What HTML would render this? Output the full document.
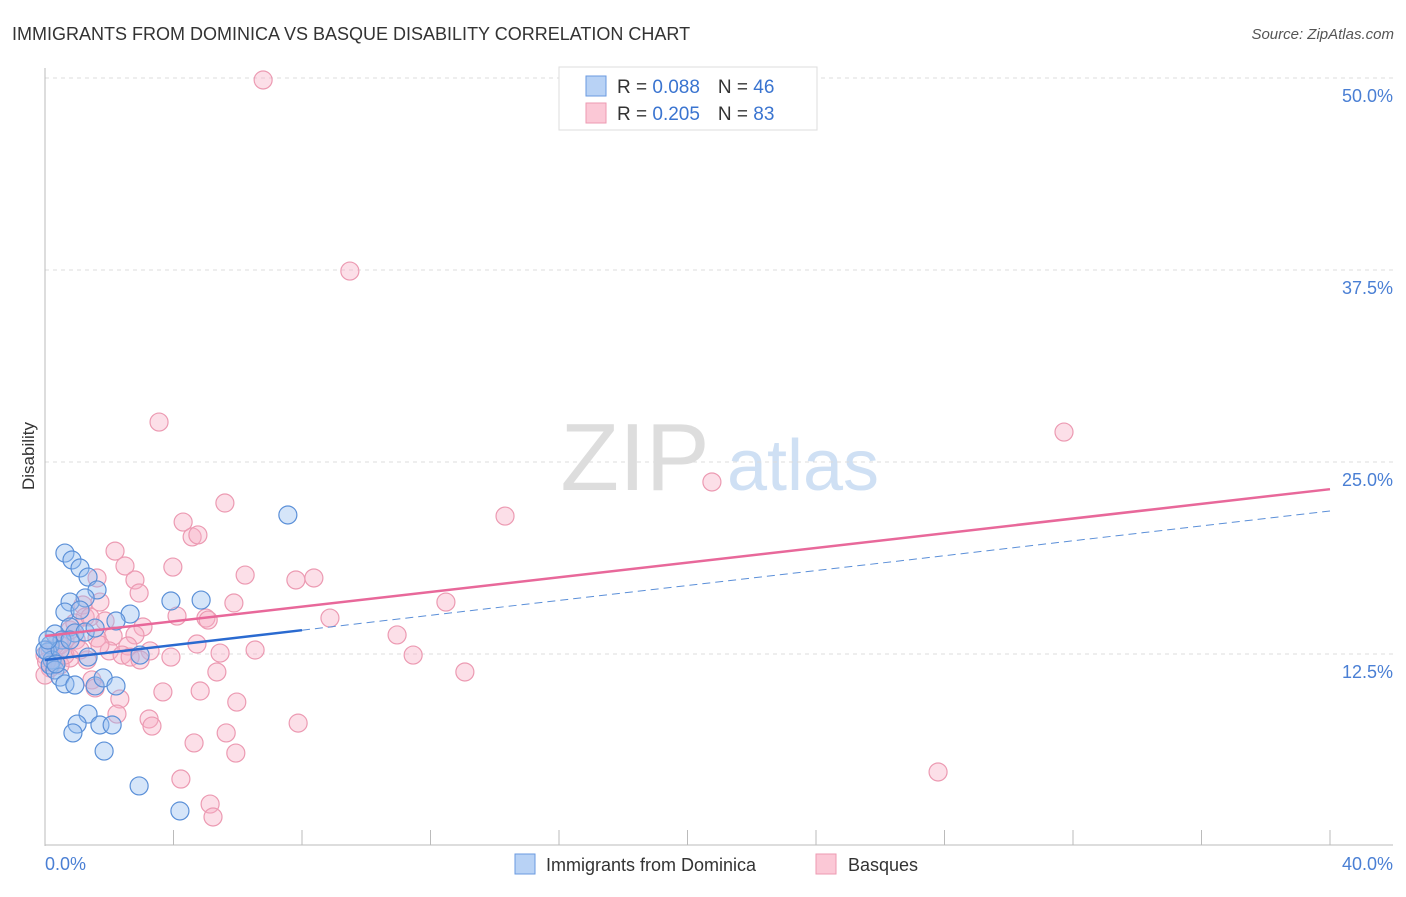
<!DOCTYPE html>
<html><head><meta charset="utf-8"><style>
body{margin:0;background:#fff;font-family:"Liberation Sans",sans-serif}
svg text{font-family:"Liberation Sans",sans-serif}
</style></head><body>
<svg width="1406" height="892" viewBox="0 0 1406 892">
<text x="12" y="40" font-size="18" fill="#333">IMMIGRANTS FROM DOMINICA VS BASQUE DISABILITY CORRELATION CHART</text>
<text x="1394" y="39" font-size="15" fill="#555" font-style="italic" text-anchor="end">Source: ZipAtlas.com</text>
<g>
<text x="635" y="490" font-size="96" fill="#ddd" font-family="Liberation Serif" text-anchor="middle">ZIP</text>
<text x="803" y="490" font-size="72" fill="#cfe0f4" text-anchor="middle">atlas</text>
</g>
<g id="grid"></g>
<g id="axes"></g>
<g id="marks"></g>
<text transform="translate(34,456) rotate(-90)" font-size="17" fill="#333" text-anchor="middle">Disability</text>
<text x="45" y="870" font-size="18" fill="#4a7fd4">0.0%</text>
<text x="1393" y="870" font-size="18" fill="#4a7fd4" text-anchor="end">40.0%</text>
<g>
<rect x="559" y="67" width="258" height="63" fill="#fff" stroke="#ddd"/>
<rect x="586" y="76" width="20" height="20" fill="#b8d2f5" stroke="#6a9ae0"/>
<rect x="586" y="103" width="20" height="20" fill="#fbc8d6" stroke="#ec9ab2"/>
<text x="617" y="93" font-size="19" fill="#333">R = <tspan fill="#3a74d0">0.088</tspan><tspan dx="18">N = </tspan><tspan fill="#3a74d0">46</tspan></text>
<text x="617" y="120" font-size="19" fill="#333">R = <tspan fill="#3a74d0">0.205</tspan><tspan dx="18">N = </tspan><tspan fill="#3a74d0">83</tspan></text>
</g>
<g>
<rect x="515" y="854" width="20" height="20" fill="#b8d2f5" stroke="#6a9ae0"/>
<text x="546" y="871" font-size="18" fill="#333">Immigrants from Dominica</text>
<rect x="816" y="854" width="20" height="20" fill="#fbc8d6" stroke="#ec9ab2"/>
<text x="848" y="871" font-size="18" fill="#333">Basques</text>
</g>
</svg>
<script>
const yTicks=[12.5,25,37.5,50];
const yTickLabels=["12.5%","25.0%","37.5%","50.0%"];
const xTicks=[3.5,7.5,11.5,15.5,19.5,23.5,27.5,31.5,35.5,39.5,40];
const blueX=[0.62,0.84,1.09,1.34,1.62,1.25,0.78,0.62,1.09,2.65,3.92,4.86,2.21,0.78,0.93,0.31,0.53,0.16,0.09,0.22,0.16,0.31,0.47,0.62,0.93,1.56,1.81,2.21,1.34,1.0,0.87,1.71,2.09,1.84,2.93,4.2,7.56,1.34,0,0.47,0.78,2.96,0.09,0.34,1.25,1.56];
const blueY=[19.07,18.62,18.1,17.51,16.67,16.15,15.88,15.23,15.36,15.1,15.95,16.01,14.65,14.26,13.87,13.8,13.41,13.09,12.63,12.11,11.78,11.46,11.0,10.55,10.48,10.42,10.94,10.42,8.59,7.94,7.36,7.88,7.88,6.18,3.91,2.28,21.55,12.3,12.76,12.76,13.41,12.43,13.41,11.85,13.93,14.19];
const pinkX=[6.79,9.49,3.55,31.72,20.76,5.6,14.32,4.3,4.58,4.76,2.18,2.49,3.98,6.23,8.37,7.81,2.8,1.62,2.93,1.71,5.88,12.48,1.18,4.11,5.01,5.08,8.87,1.87,1.25,3.05,2.8,2.12,1.62,0.97,10.96,4.73,2.58,2.0,3.27,2.4,2.65,6.54,5.45,11.46,3.92,0.78,0.31,1.31,0.16,5.35,13.07,1.46,1.56,3.67,4.83,2.33,5.97,2.24,3.24,3.33,7.88,5.64,4.64,5.94,4.23,27.8,5.14,5.23,0.47,0.62,0,0.16,0.31,0.47,0,0.78,1.71,0.93,1.4,2.96,0.62,1.09,0.05];
const pinkY=[49.87,37.43,27.6,26.95,23.7,22.33,21.48,21.09,20.12,20.25,19.2,18.23,18.16,17.64,17.45,17.32,17.32,17.45,16.47,15.88,15.82,15.88,15.69,14.97,14.84,14.71,14.84,14.65,14.91,14.26,13.74,13.67,13.54,13.41,13.74,13.15,13.02,12.7,12.7,12.43,12.3,12.76,12.56,12.43,12.3,12.24,12.11,12.11,11.59,11.33,11.33,10.81,10.29,10.03,10.09,9.57,9.37,8.59,8.27,7.81,8.0,7.36,6.71,6.05,4.36,4.82,2.73,1.89,13.09,13.41,12.43,12.76,13.09,11.78,11.13,14.06,13.09,14.52,14.91,12.11,12.43,12.76,12.0];
const blueTrend=[12.11,0.2425]; // intercept, slope
const blueSolidEnd=8;
const pinkTrend=[13.67,0.239];
const NS="http://www.w3.org/2000/svg";
const sx=v=>45+v/40*1285;
const sy=v=>846-v/12.5*192;
function mk(t,a,p){const e=document.createElementNS(NS,t);for(const k in a)e.setAttribute(k,a[k]);p.appendChild(e);return e;}
const grid=document.getElementById('grid'),axes=document.getElementById('axes'),marks=document.getElementById('marks');
yTicks.forEach((t,i)=>{
 const l=mk('line',{x1:45,x2:1393,y1:sy(t),y2:sy(t),stroke:'#ddd','stroke-dasharray':'4,4'},grid);
 
 
 const tx=mk('text',{x:1393,y:sy(t)+24,'font-size':18,fill:'#4a7fd4','text-anchor':'end'},grid);
 tx.textContent=yTickLabels[i];
 
 
});
let a=mk('line',{x1:45,x2:45,y1:68,y2:846,stroke:'#bbb'},axes);


a=mk('line',{x1:45,x2:1393,y1:845,y2:845,stroke:'#bbb'},axes);


[4,8,12,16,20,24,28,32,36,40].forEach(t=>{
 const l=mk('line',{x1:sx(t),x2:sx(t),y1:830,y2:845,stroke:'#bbb'},axes);
 
 
});
function pts(X,Y,fill,stroke,name){X.forEach((x,i)=>{
 const c=mk('circle',{cx:sx(x),cy:sy(Y[i]),r:9,fill:fill,stroke:stroke,'stroke-width':1.2},marks);
 
 
});}
pts(pinkX,pinkY,'rgba(248,175,198,0.4)','#ec9ab2','basques-point');
pts(blueX,blueY,'rgba(150,190,240,0.4)','#5b90d8','dominica-point');
let tl=mk('line',{x1:sx(0),y1:sy(pinkTrend[0]),x2:sx(40),y2:sy(pinkTrend[0]+pinkTrend[1]*40),stroke:'#e8689a','stroke-width':2.5},marks);


tl=mk('line',{x1:sx(blueSolidEnd),y1:sy(blueTrend[0]+blueTrend[1]*blueSolidEnd),x2:sx(40),y2:sy(blueTrend[0]+blueTrend[1]*40),stroke:'#5b8fd8','stroke-width':1,'stroke-dasharray':'8,5'},marks);


tl=mk('line',{x1:sx(0),y1:sy(blueTrend[0]),x2:sx(blueSolidEnd),y2:sy(blueTrend[0]+blueTrend[1]*blueSolidEnd),stroke:'#2a6ad0','stroke-width':2.5},marks);


</script>
</body></html>
